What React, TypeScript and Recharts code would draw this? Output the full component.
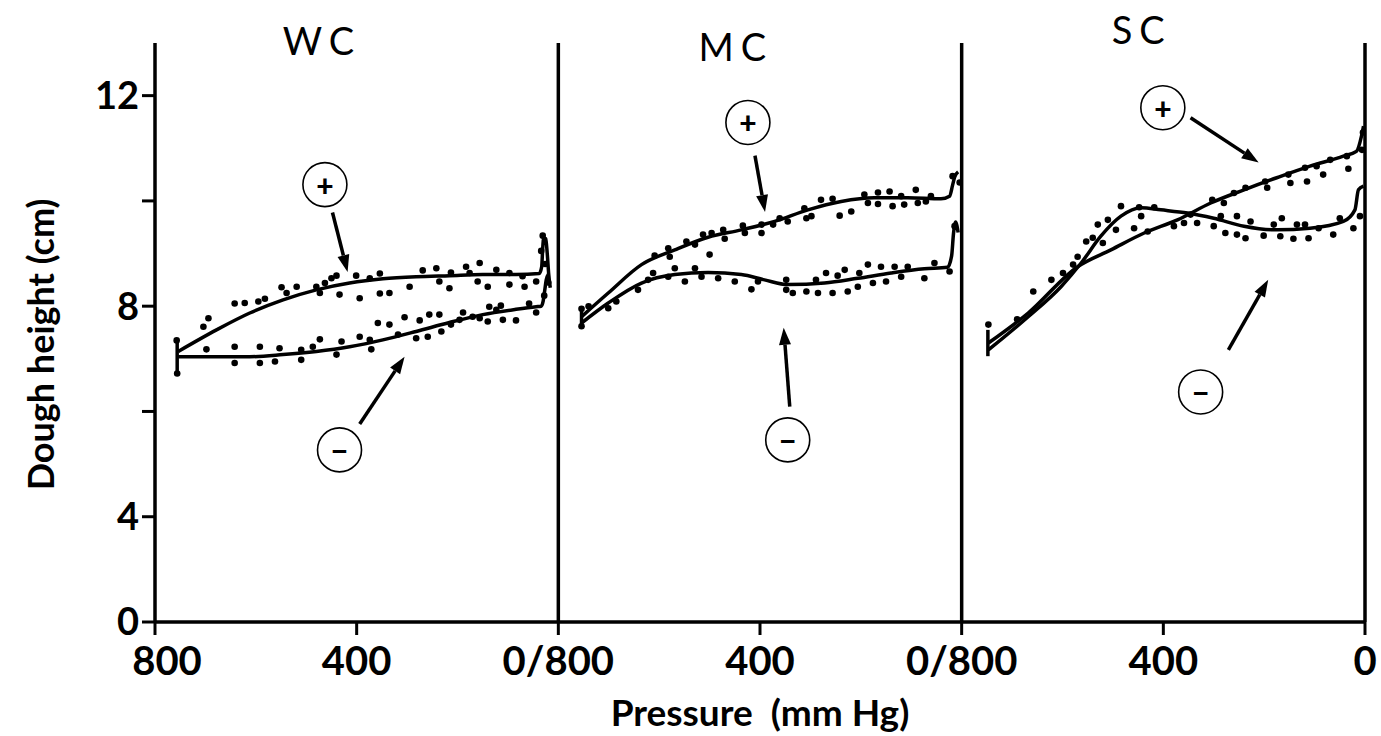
import {
  ComposedChart,
  Line,
  Scatter,
  XAxis,
  YAxis,
  ReferenceLine,
  ReferenceDot,
} from 'recharts';

// pressure runs 800 -> 0 mmHg inside each panel; heights in cm
type Pt = [number, number];

const panelNames = ['WC', 'MC', 'SC'];
const pressureTickLabels = ['800', '400', '0/800', '400', '0/800', '400', '0'];
const heightTicks = [2, 4, 6, 8, 10, 12]; // lowest tick is the "0" below the axis break

const wcRiseLine: Pt[] = [
  [754, 7.14], [678, 7.55], [612, 7.87], [546, 8.12], [480, 8.31], [414, 8.44],
  [348, 8.52], [282, 8.56], [216, 8.58], [150, 8.6], [84, 8.6], [38, 8.62],
  [33, 8.75], [31, 9.1], [29, 9.3], [25, 9.28], [22, 9.0], [19, 8.6], [16, 8.35],
];
const wcFallLine: Pt[] = [
  [754, 7.04], [678, 7.04], [612, 7.04], [546, 7.08], [480, 7.14], [414, 7.23],
  [348, 7.36], [282, 7.52], [216, 7.69], [150, 7.84], [84, 7.94], [44, 7.99],
  [34, 8.0], [30, 8.1], [27, 8.3], [24, 8.5], [20, 8.6],
];
const wcRiseDots: Pt[] = [
  [757, 7.35], [704, 7.61], [694, 7.77], [642, 8.05], [622, 8.06], [595, 8.09], [582, 8.14],
  [549, 8.36], [539, 8.25], [519, 8.37], [480, 8.37], [473, 8.25], [463, 8.44], [450, 8.53],
  [440, 8.58], [434, 8.22], [401, 8.58], [394, 8.15], [374, 8.53], [354, 8.62], [354, 8.24],
  [335, 8.25], [295, 8.37], [269, 8.68], [242, 8.72], [236, 8.47], [216, 8.34], [213, 8.64],
  [183, 8.75], [176, 8.63], [156, 8.82], [160, 8.47], [140, 8.37], [123, 8.69], [97, 8.41],
  [97, 8.63], [71, 8.57], [67, 8.37], [44, 8.47], [34, 9.05], [31, 9.34], [26, 8.8], [20, 8.45],
];
const wcFallDots: Pt[] = [
  [756, 6.72], [698, 7.18], [642, 7.23], [642, 6.92], [592, 7.23], [592, 6.92], [562, 6.95],
  [553, 7.2], [510, 7.17], [510, 6.98], [487, 7.23], [473, 7.37], [440, 7.08], [430, 7.33],
  [394, 7.42], [371, 7.18], [374, 7.36], [358, 7.68], [335, 7.65], [318, 7.46], [305, 7.79],
  [282, 7.39], [275, 7.73], [259, 7.42], [256, 7.84], [236, 7.84], [232, 7.52], [213, 7.65],
  [196, 7.74], [189, 7.88], [170, 7.8], [156, 7.77], [140, 7.71], [137, 7.99], [123, 7.93],
  [114, 8.01], [110, 7.74], [84, 7.73], [58, 8.05], [44, 7.88], [28, 8.2],
];
const wcStartBar: Pt[] = [[756, 7.32], [756, 6.75]];

const mcRiseLine: Pt[] = [
  [754, 7.8], [701, 8.25], [635, 8.79], [569, 9.07], [503, 9.31], [437, 9.45], [371, 9.61],
  [305, 9.83], [239, 9.99], [173, 10.06], [107, 10.06], [41, 10.04], [24, 10.09],
  [18, 10.3], [14, 10.45], [7, 10.55],
];
const mcFallLine: Pt[] = [
  [754, 7.68], [701, 8.06], [635, 8.44], [569, 8.6], [503, 8.64], [437, 8.6], [391, 8.5],
  [345, 8.41], [272, 8.44], [206, 8.53], [140, 8.63], [74, 8.71], [28, 8.74], [20, 8.95],
  [16, 9.4], [12, 9.6], [7, 9.4],
];
const mcRiseDots: Pt[] = [
  [754, 7.95], [740, 8.0], [609, 8.96], [582, 9.1], [579, 8.94], [546, 9.23], [529, 9.17],
  [513, 9.36], [496, 9.39], [500, 8.98], [473, 9.45], [470, 9.28], [434, 9.53], [430, 9.39],
  [397, 9.55], [397, 9.39], [374, 9.55], [361, 9.67], [345, 9.61], [312, 9.86], [308, 9.67],
  [298, 9.71], [279, 10.02], [256, 10.04], [242, 9.72], [219, 9.8], [193, 10.12], [186, 9.96],
  [166, 10.16], [166, 9.94], [143, 10.18], [137, 9.9], [120, 10.09], [114, 9.93], [91, 10.21],
  [87, 9.96], [71, 9.99], [61, 10.09], [18, 10.47], [4, 10.35],
];
const mcFallDots: Pt[] = [
  [754, 7.62], [701, 7.96], [685, 8.09], [642, 8.31], [622, 8.5], [612, 8.63], [582, 8.56],
  [569, 8.72], [549, 8.47], [529, 8.72], [516, 8.56], [483, 8.53], [450, 8.47], [417, 8.32],
  [404, 8.47], [348, 8.5], [348, 8.31], [335, 8.25], [308, 8.28], [289, 8.5], [285, 8.25],
  [269, 8.63], [256, 8.25], [246, 8.58], [232, 8.69], [226, 8.28], [206, 8.37], [203, 8.63],
  [186, 8.79], [176, 8.44], [160, 8.75], [150, 8.47], [133, 8.75], [120, 8.56], [107, 8.75],
  [74, 8.53], [54, 8.82], [24, 8.66], [14, 9.52],
];
const mcStartBar: Pt[] = [[754, 7.98], [754, 7.6]];

const scRiseLine: Pt[] = [
  [747, 7.3], [668, 7.87], [570, 8.75], [504, 9.07], [438, 9.39], [372, 9.64], [306, 9.96],
  [240, 10.21], [175, 10.44], [109, 10.66], [43, 10.85], [17, 10.94], [7, 11.23], [3, 11.42],
];
const scFallLine: Pt[] = [
  [747, 7.17], [668, 7.8], [603, 8.37], [563, 8.82], [524, 9.33], [484, 9.71], [444, 9.87],
  [405, 9.83], [352, 9.77], [300, 9.67], [240, 9.52], [175, 9.45], [109, 9.48], [43, 9.61],
  [20, 9.83], [13, 10.21], [3, 10.28],
];
const scRiseDots: Pt[] = [
  [747, 7.65], [690, 7.75], [658, 8.28], [622, 8.5], [599, 8.63], [579, 8.79], [494, 9.45],
  [458, 9.48], [431, 9.42], [346, 9.74], [303, 10.02], [280, 9.96], [260, 10.15], [237, 10.25],
  [198, 10.37], [194, 10.25], [152, 10.5], [148, 10.34], [119, 10.63], [115, 10.37], [96, 10.66],
  [83, 10.5], [69, 10.78], [36, 10.85], [33, 10.61], [6, 10.97], [4, 11.3],
];
const scFallDots: Pt[] = [
  [570, 8.94], [553, 9.23], [540, 9.3], [530, 9.55], [520, 9.2], [510, 9.64], [484, 9.9],
  [448, 9.88], [444, 9.71], [418, 9.88], [379, 9.52], [359, 9.58], [333, 9.58], [300, 9.52],
  [286, 9.71], [277, 9.39], [254, 9.36], [254, 9.71], [237, 9.29], [227, 9.61], [201, 9.34],
  [181, 9.55], [168, 9.33], [165, 9.67], [142, 9.28], [135, 9.55], [119, 9.55], [112, 9.29],
  [92, 9.48], [63, 9.36], [50, 9.67], [23, 9.48], [10, 9.71],
];
const scStartBar: Pt[] = [[748, 7.55], [748, 7.05]];

// circled +/- badges and the arrows pointing from them to the curves
const badgeSigns = ['+', '\u2212', '+', '\u2212', '+', '\u2212'];
const badgeSpots: Pt[] = [[463, 10.31], [434, 5.27], [424, 11.49], [345, 5.46], [401, 11.77], [326, 6.37]];
const arrowTails: Pt[] = [[448, 9.78], [394, 5.76], [410, 10.86], [341, 6.09], [346, 11.58], [271, 7.17]];
const arrowHeads: Pt[] = [[418, 8.65], [305, 7.04], [390, 9.79], [353, 7.59], [211, 10.73], [192, 8.5]];
const titleSpots: Pt[] = [[469, 13.06], [448, 12.95], [443, 13.27]];

const panelSeries = [
  { rise: wcRiseLine, fall: wcFallLine, riseDots: wcRiseDots, fallDots: wcFallDots, bar: wcStartBar },
  { rise: mcRiseLine, fall: mcFallLine, riseDots: mcRiseDots, fallDots: mcFallDots, bar: mcStartBar },
  { rise: scRiseLine, fall: scFallLine, riseDots: scRiseDots, fallDots: scFallDots, bar: scStartBar },
];

const PANEL_SPAN = 800;
const posOf = (panel: number, p: number) => panel * PANEL_SPAN + (PANEL_SPAN - p);
const toXY = (panel: number, pts: Pt[]) => pts.map(([p, h]) => ({ x: posOf(panel, p), y: h }));
const panelOfBadge = (i: number) => Math.floor(i / 2);

const FONT = 'Lato, "Open Sans", sans-serif';

function ArrowShape(props: any) {
  const { x1, y1, x2, y2 } = props;
  const ang = Math.atan2(y2 - y1, x2 - x1);
  const len = 17;
  const half = 6;
  const bx = x2 - len * Math.cos(ang);
  const by = y2 - len * Math.sin(ang);
  const nx = -Math.sin(ang) * half;
  const ny = Math.cos(ang) * half;
  return (
    <g>
      <line x1={x1} y1={y1} x2={bx} y2={by} stroke="#000" strokeWidth={3.5} />
      <polygon points={`${x2},${y2} ${bx + nx},${by + ny} ${bx - nx},${by - ny}`} fill="#000" />
    </g>
  );
}

function badgeShape(sign: string) {
  return (props: any) => (
    <g>
      <circle cx={props.cx} cy={props.cy} r={22} fill="#fff" stroke="#000" strokeWidth={1.6} />
      <text
        x={props.cx}
        y={props.cy}
        textAnchor="middle"
        dominantBaseline="central"
        fontFamily={FONT}
        fontWeight={900}
        fontSize={30}
        fill="#000"
      >
        {sign}
      </text>
    </g>
  );
}

function titleShape(name: string) {
  return (props: any) => (
    <text
      x={props.cx}
      y={props.cy}
      textAnchor="middle"
      dominantBaseline="central"
      fontFamily={FONT}
      fontSize={38}
      letterSpacing={7}
      fill="#000"
    >
      {name}
    </text>
  );
}

function PressureTick(props: any) {
  const { x, y, payload, index } = props;
  // the first label sits a little right of its tick, clear of the "0" height label
  const shift = index === 0 ? 12 : 0;
  return (
    <text
      x={x + shift}
      y={y}
      dy="0.71em"
      textAnchor="middle"
      fontFamily={FONT}
      fontWeight={700}
      fontSize={40}
      fill="#000"
    >
      {pressureTickLabels[Math.round(payload.value / 400)]}
    </text>
  );
}

const dotShape = (p: any) => <circle cx={p.cx} cy={p.cy} r={3.3} fill="#000" />;

export default function App() {
  return (
    <div style={{ width: 1381, height: 736, background: '#fff' }}>
      <style>{'body{margin:0;background:#fff}'}</style>
      <ComposedChart
        width={1381}
        height={736}
        margin={{ top: 43, right: 16, bottom: 0, left: 0 }}
        style={{ fontFamily: FONT }}
      >
        <XAxis
          type="number"
          dataKey="x"
          domain={[0, 3 * PANEL_SPAN]}
          ticks={[0, 400, 800, 1200, 1600, 2000, 2400]}
          height={114}
          axisLine={{ stroke: '#000', strokeWidth: 3.5 }}
          tickLine={{ stroke: '#000', strokeWidth: 3 }}
          tickSize={13}
          tickMargin={12}
          tick={<PressureTick />}
          allowDataOverflow
          label={{
            content: ({ viewBox }: any) => (
              <text
                x={viewBox.x + viewBox.width / 2}
                y={viewBox.y + 104}
                textAnchor="middle"
                fontFamily={FONT}
                fontWeight={700}
                fontSize={37}
                fill="#000"
                style={{ whiteSpace: 'pre' }}
              >
                {'Pressure  (mm Hg)'}
              </text>
            ),
          }}
        />
        <YAxis
          type="number"
          domain={[2, 13]}
          ticks={heightTicks}
          tickFormatter={(v: number) => (v === 2 ? '0' : v % 4 === 0 ? String(v) : '')}
          width={155}
          axisLine={{ stroke: '#000', strokeWidth: 3.5 }}
          tickLine={{ stroke: '#000', strokeWidth: 3 }}
          tickSize={13}
          tickMargin={3}
          tick={{ fontSize: 38, fontWeight: 700, fill: '#000', fontFamily: FONT }}
          allowDataOverflow
          label={{
            content: ({ viewBox }: any) => {
              const cx = viewBox.x + 40;
              const cy = viewBox.y + viewBox.height / 2 + 12;
              return (
                <text
                  x={cx}
                  y={cy}
                  transform={`rotate(-90 ${cx} ${cy})`}
                  textAnchor="middle"
                  dominantBaseline="central"
                  fontFamily={FONT}
                  fontWeight={700}
                  fontSize={36}
                  fill="#000"
                >
                  Dough height (cm)
                </text>
              );
            },
          }}
        />

        {[1, 2, 3].map((k) => (
          <ReferenceLine key={`div${k}`} x={k * PANEL_SPAN} stroke="#000" strokeWidth={3.5} />
        ))}

        {panelSeries.map((s, i) => [
          <Scatter
            key={`rd${i}`}
            data={toXY(i, s.riseDots)}
            dataKey="y"
            fill="#000"
            shape={dotShape}
            isAnimationActive={false}
          />,
          <Scatter
            key={`fd${i}`}
            data={toXY(i, s.fallDots)}
            dataKey="y"
            fill="#000"
            shape={dotShape}
            isAnimationActive={false}
          />,
          <Line
            key={`rl${i}`}
            data={toXY(i, s.rise)}
            dataKey="y"
            type="monotone"
            stroke="#000"
            strokeWidth={3.5}
            dot={false}
            activeDot={false}
            isAnimationActive={false}
          />,
          <Line
            key={`fl${i}`}
            data={toXY(i, s.fall)}
            dataKey="y"
            type="monotone"
            stroke="#000"
            strokeWidth={3.5}
            dot={false}
            activeDot={false}
            isAnimationActive={false}
          />,
          <Line
            key={`bar${i}`}
            data={toXY(i, s.bar)}
            dataKey="y"
            type="linear"
            stroke="#000"
            strokeWidth={3.5}
            dot={false}
            activeDot={false}
            isAnimationActive={false}
          />,
        ])}

        {arrowTails.map(([p, h], i) => {
          const panel = panelOfBadge(i);
          const [hp, hh] = arrowHeads[i];
          return (
            <ReferenceLine
              key={`ar${i}`}
              segment={[
                { x: posOf(panel, p), y: h },
                { x: posOf(panel, hp), y: hh },
              ]}
              shape={ArrowShape}
              ifOverflow="visible"
            />
          );
        })}

        {badgeSpots.map(([p, h], i) => (
          <ReferenceDot
            key={`bd${i}`}
            x={posOf(panelOfBadge(i), p)}
            y={h}
            r={22}
            shape={badgeShape(badgeSigns[i])}
            ifOverflow="visible"
          />
        ))}

        {titleSpots.map(([p, h], i) => (
          <ReferenceDot
            key={`tt${i}`}
            x={posOf(i, p)}
            y={h}
            r={1}
            shape={titleShape(panelNames[i])}
            ifOverflow="visible"
          />
        ))}
      </ComposedChart>
    </div>
  );
}
